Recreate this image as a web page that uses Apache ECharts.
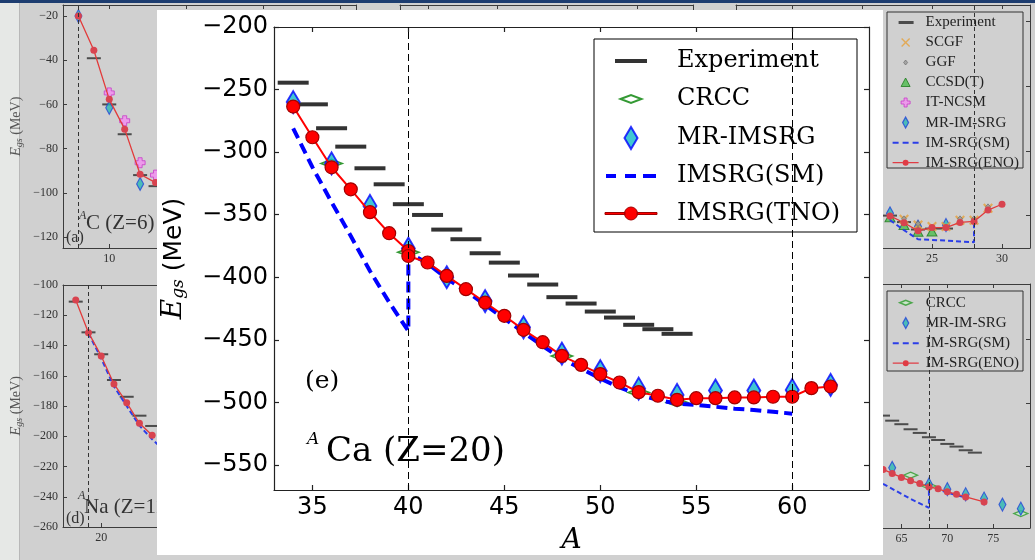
<!DOCTYPE html>
<html><head><meta charset="utf-8">
<script src="https://cdn.jsdelivr.net/npm/echarts@6/dist/echarts.min.js"></script>
<style>
html,body{margin:0;padding:0;width:1035px;height:560px;overflow:hidden;background:#d0d0d0;}
#bg{position:absolute;left:0;top:0;width:1035px;height:560px;
  background:linear-gradient(#1d3d70,#1d3d70) 0 0/1035px 3px no-repeat,
             linear-gradient(to right,#e6e8e6 0,#e6e8e6 19px,#b8b8b8 19px,#b8b8b8 20px,#d0d0d0 20px);}
#main{position:absolute;left:157px;top:10px;width:726px;height:545px;background:#fff;}
</style></head><body>
<div id="bg"></div><div id="main"></div>
<script>
// ===== Main panel (e): ACa (Z=20) =====
const caExpA  = [34,35,36,37,38,39,40,41,42,43,44,45,46,47,48,49,50,51,52,53,54];
const caExpE  = [-244.5,-261.8,-280.9,-295.6,-312.9,-325.7,-341.6,-350.2,-361.9,-369.6,-380.8,-388.3,-398.6,-405.8,-415.9,-421.0,-427.4,-432.2,-438.0,-441.5,-445.2];
const caCrccA = [36,40,48,52,54];
const caCrccE = [-309,-380,-463,-492,-500];
const caMrA   = [34,36,38,40,42,44,46,48,50,52,54,56,58,60,62];
const caMrE   = [-260,-309,-343,-377,-400,-419,-440,-461,-475,-489,-494,-490.5,-490.5,-490,-486];
const caSmA   = [34,35,36,37,38,39,40,40,41,42,43,44,45,46,47,48,49,50,51,52,53,54,55,56,57,58,59,60];
const caSmE   = [-281,-312,-340,-367,-395,-420,-443,-380,-389,-401,-411,-422,-433,-444,-455,-465,-473,-481,-488,-494,-498,-501,-502,-503.5,-505,-506,-507.5,-509];
const caTnoA  = [34,35,36,37,38,39,40,40,41,42,43,44,45,46,47,48,49,50,51,52,53,54,55,56,57,58,59,60,61,62];
const caTnoE  = [-263.6,-288.1,-312.1,-329.7,-348,-364.8,-379,-383,-388.2,-398.9,-409.5,-420.2,-430.8,-442,-451.9,-462.8,-470,-477.4,-484.1,-491.8,-494.7,-497.9,-496.6,-496.6,-496,-496,-495.5,-495.5,-488.6,-487.3];
const caMagic = [40,60];
const caTicksX = [35,40,45,50,55,60];
const caTicksY = [-550,-500,-450,-400,-350,-300,-250,-200];

// ===== Background panel (a): AC (Z=6) =====
const cExpA  = [9,10,11,12,13];
const cExpE  = [-39.1,-60,-73.5,-92,-97];
const cEnoA  = [8,9,10,11,12,13];
const cEnoE  = [-20,-35.5,-57.7,-71.2,-91.6,-95.4];
const cMrA   = [8,10,12];
const cMrE   = [-20,-61.5,-96];
const cNcsmA = [10,11,12,13];
const cNcsmE = [-54.8,-67.4,-86.4,-92];
const cMagic = [8];
const cTicksX = [10,15,20,25];
const cTicksY = [-120,-100,-80,-60,-40,-20];

// ===== Background panel (d): ANa (Z=11) =====
const naExpA = [18,19,20,21,22,23,24];
const naExpE = [-111,-131.3,-145.8,-162.8,-173.9,-186.4,-193.2];
const naEnoA = [18,19,20,21,22,23,24];
const naEnoE = [-109.9,-131.5,-146.9,-165.4,-177.8,-191.4,-199.4];
const naSmA  = [19,20,21,22,23,24,25];
const naSmE  = [-132,-148.5,-167,-180,-193,-202,-210];
const naMagic = [19];
const naTicksX = [20,25,30,35,40];
const naTicksY = [-260,-240,-220,-200,-180,-160,-140,-120,-100];

// ===== Background panel (c), top right =====
const oExpA  = [22,23,24,25,26];
const oExpE  = [-180,-182,-184.3,-184,-184];
const oScgfA = [23,24,25,26,27,28,29];
const oScgfE = [-181.1,-182.9,-183.4,-183.4,-181.4,-181.4,-177.7];
const oGgfA  = [23,24,27,28,29];
const oGgfE  = [-181,-182.5,-181,-181,-177.3];
const oCcA   = [22,23,24,25];
const oCcE   = [-180.5,-182.9,-185,-184.9];
const oMrA   = [22,24,26];
const oMrE   = [-179.3,-183.4,-182.9];
const oSmA   = [22,23,24,25,26,27,28,28];
const oSmE   = [-181.4,-184.5,-187.3,-187.5,-187.7,-188,-188.2,-182];
const oEnoA  = [22,23,24,25,26,27,28,29,30];
const oEnoE  = [-180.1,-182.2,-184.7,-183.7,-183.7,-182.1,-181.8,-178.3,-176.5];
const oMagic = [28];
const oTicksX = [15,20,25,30];
const oTicksY = [-180,-160,-140,-120];

// ===== Background panel (f), bottom right =====
const niExpA  = [63,64,65,66,67,68,69,70,71,72,73];
const niExpE  = [-610.1,-614.1,-616.9,-620.9,-623.8,-627.2,-629.4,-632.5,-634.6,-637.5,-639.4];
const niEnoA  = [63,64,65,66,67,68,69,70,71,72,74];
const niEnoE  = [-652.7,-655.8,-659,-661.7,-663.8,-666.5,-668,-670.4,-672.3,-674.4,-678.4];
const niMrA   = [64,68,70,72,74,76,78];
const niMrE   = [-651.4,-664.6,-668.3,-672.3,-675.7,-680.5,-683.7];
const niCrccA = [66,68,78];
const niCrccE = [-657.2,-665.8,-687.6];
const niSmA   = [63,64,66,68,68,70,72];
const niSmE   = [-664,-668,-676,-683,-666,-671,-675];
const niMagic = [68];
const niTicksX = [50,55,60,65,70,75];
const niTicksY = [-650,-600,-550];

// ---------- helpers ----------
const zip = (a, b) => a.map((x, i) => [x, b[i]]);
const fmt = v => String(v).replace('-', '\u2212');
const box = (w, h) => 'path://M0,0 M' + w + ',' + h + ' ';
const PLUS = 'path://M3,0 L7,0 L7,3 L10,3 L10,7 L7,7 L7,10 L3,10 L3,7 L0,7 L0,3 L3,3 Z';
const XMARK = 'path://M0,1.5 L1.5,0 L5,3.5 L8.5,0 L10,1.5 L6.5,5 L10,8.5 L8.5,10 L5,6.5 L1.5,10 L0,8.5 L3.5,5 Z';

// ================= BACKGROUND CHART =================
const bg = echarts.init(document.getElementById('bg'));
const BGF = 'Liberation Serif';
const AX = '#3c3c3c';
const grids = [], xAxes = [], yAxes = [], series = [];
function addPanel(rect, xr, xt, yr, yt, showX, showY) {
  const gi = grids.length;
  grids.push({left: rect[0], top: rect[1], width: rect[2], height: rect[3], show: false, containLabel: false, outerBoundsMode: 'none'});
  const line = {show: true, onZero: false, lineStyle: {color: AX, width: 1}};
  const tk = v => ({show: true, inside: true, length: 4, customValues: v, lineStyle: {color: AX, width: 1}});
  const lab = (v, s) => ({show: s, customValues: v, fontFamily: BGF, fontSize: 12, color: '#333', margin: 5, formatter: fmt});
  xAxes.push({gridIndex: gi, type: 'value', position: 'bottom', min: xr[0], max: xr[1], axisLine: line, axisTick: tk(xt), axisLabel: lab(xt, showX), splitLine: {show: false}});
  xAxes.push({gridIndex: gi, type: 'value', position: 'top', min: xr[0], max: xr[1], axisLine: line, axisTick: tk(xt), axisLabel: {show: false}, splitLine: {show: false}});
  yAxes.push({gridIndex: gi, type: 'value', position: 'left', min: yr[0], max: yr[1], axisLine: line, axisTick: tk(yt), axisLabel: lab(yt, showY), splitLine: {show: false}});
  yAxes.push({gridIndex: gi, type: 'value', position: 'right', min: yr[0], max: yr[1], axisLine: line, axisTick: tk(yt), axisLabel: {show: false}, splitLine: {show: false}});
  return gi;
}
const ax = gi => ({xAxisIndex: 2 * gi, yAxisIndex: 2 * gi});
const vline = vals => ({symbol: 'none', silent: true, animation: false, label: {show: false},
  lineStyle: {color: '#333', type: [4, 3], width: 1}, emphasis: {disabled: true}, data: vals.map(v => ({xAxis: v}))});
const yNameBg = {
  name: '{e|E}{s|gs}{n| (MeV)}', nameLocation: 'middle', nameGap: 39, nameRotate: 90, nameMoveOverlap: false,
  nameTextStyle: {rich: {
    e: {fontFamily: BGF, fontStyle: 'italic', fontSize: 15, color: '#555'},
    s: {fontFamily: BGF, fontStyle: 'italic', fontSize: 10, color: '#555', padding: [6, 0, 0, 0]},
    n: {fontFamily: BGF, fontSize: 14, color: '#555'}}}
};

const gA = addPanel([63, 5, 293, 243], [7, 26], cTicksX, [-125, -15], cTicksY, true, true);
const gB = addPanel([400, 5, 293, 243], [8, 29], [10, 15, 20, 25], [-125, -15], cTicksY, false, false);
const gC = addPanel([736, 5, 294, 243], [11, 32], oTicksX, [-190, -115], oTicksY, true, false);
const gD = addPanel([63, 285, 293, 242], [17, 40], naTicksX, [-260, -100], naTicksY, true, true);
const gF = addPanel([736, 284, 294, 244], [47, 79], niTicksX, [-699, -506], niTicksY, true, false);
Object.assign(yAxes[2 * gA], yNameBg);
Object.assign(yAxes[2 * gD], yNameBg);

const st = {
  exp:  {type: 'scatter', name: 'Experiment', symbol: 'rect', symbolSize: [14, 2], itemStyle: {color: '#2a2a2a'}},
  eno:  {type: 'line', name: 'IM-SRG(ENO)', symbol: 'circle', symbolSize: 7, itemStyle: {color: '#d8434f', borderWidth: 0}, lineStyle: {color: '#e23b3b', width: 1.3}},
  mr:   {type: 'scatter', name: 'MR-IM-SRG', symbol: 'diamond', symbolSize: [7, 13], itemStyle: {color: '#2bb6b0', borderColor: '#2243d8', borderWidth: 1.2}},
  ncsm: {type: 'scatter', name: 'IT-NCSM', symbol: PLUS, symbolSize: 10, itemStyle: {color: '#f28cf0', borderColor: '#c83cc8', borderWidth: 1}},
  scgf: {type: 'scatter', name: 'SCGF', symbol: XMARK, symbolSize: 10, itemStyle: {color: '#e6a03a'}},
  ggf:  {type: 'scatter', name: 'GGF', symbol: 'diamond', symbolSize: [5, 6], itemStyle: {color: '#999', borderColor: '#666', borderWidth: 0.8}},
  cc:   {type: 'scatter', name: 'CCSD(T)', symbol: 'triangle', symbolSize: [10, 9], itemStyle: {color: '#4cbb4c', borderColor: '#1f7a1f', borderWidth: 1}},
  crcc: {type: 'scatter', name: 'CRCC', symbol: 'diamond', symbolSize: [14, 6], itemStyle: {color: '#c8e8c8', borderColor: '#2a9a2a', borderWidth: 1.5}},
  sm:   {type: 'line', name: 'IM-SRG(SM)', symbol: 'none', lineStyle: {color: '#2b3ee8', width: 2, type: [5, 3]}, itemStyle: {color: '#2b3ee8'}}
};
function S(kind, gi, xs, ys, extra) {
  series.push(Object.assign({}, st[kind], ax(gi), {data: zip(xs, ys), silent: true, animation: false}, extra || {}));
}
// (a)
S('exp', gA, cExpA, cExpE, {markLine: vline(cMagic)});
S('ncsm', gA, cNcsmA, cNcsmE);
S('mr', gA, cMrA, cMrE);
S('eno', gA, cEnoA, cEnoE);
// (c)
S('exp', gC, oExpA, oExpE, {markLine: vline(oMagic)});
S('sm', gC, oSmA, oSmE);
S('cc', gC, oCcA, oCcE);
S('mr', gC, oMrA, oMrE);
S('scgf', gC, oScgfA, oScgfE);
S('ggf', gC, oGgfA, oGgfE);
S('eno', gC, oEnoA, oEnoE);
// (d)
S('exp', gD, naExpA, naExpE, {markLine: vline(naMagic)});
S('sm', gD, naSmA, naSmE);
S('eno', gD, naEnoA, naEnoE);
// (f)
S('exp', gF, niExpA, niExpE, {markLine: vline(niMagic)});
S('crcc', gF, niCrccA, niCrccE);
S('mr', gF, niMrA, niMrE);
S('sm', gF, niSmA, niSmE);
S('eno', gF, niEnoA, niEnoE);

const bgLegText = {fontFamily: BGF, fontSize: 15, color: '#222', lineHeight: 14, padding: [0, 0, 0, 2]};
const B = box(26, 14);
const bgIcons = {
  'Experiment': {icon: B + 'M6,5.5 L21,5.5 L21,8.5 L6,8.5 Z', itemStyle: {color: '#2a2a2a', borderWidth: 0}},
  'SCGF': {icon: B + 'M8.5,3.5 L9.5,2.5 L13,6 L16.5,2.5 L17.5,3.5 L14,7 L17.5,10.5 L16.5,11.5 L13,8 L9.5,11.5 L8.5,10.5 L12,7 Z', itemStyle: {color: '#e6a03a', borderWidth: 0}},
  'GGF': {icon: B + 'M13,4.5 L15,7 L13,9.5 L11,7 Z', itemStyle: {color: '#999', borderColor: '#666', borderWidth: 0.8}},
  'CCSD(T)': {icon: B + 'M13,2.5 L17.5,11 L8.5,11 Z', itemStyle: {color: '#4cbb4c', borderColor: '#1f7a1f', borderWidth: 1}},
  'IT-NCSM': {icon: B + 'M11.5,2.5 L14.5,2.5 L14.5,5.5 L17.5,5.5 L17.5,8.5 L14.5,8.5 L14.5,11.5 L11.5,11.5 L11.5,8.5 L8.5,8.5 L8.5,5.5 L11.5,5.5 Z', itemStyle: {color: '#f28cf0', borderColor: '#c83cc8', borderWidth: 1}},
  'MR-IM-SRG': {icon: B + 'M13,1.5 L16,7 L13,12.5 L10,7 Z', itemStyle: {color: '#2bb6b0', borderColor: '#2243d8', borderWidth: 1.2}},
  'IM-SRG(SM)': {icon: B + 'M0,6 L6,6 L6,8 L0,8 Z M10,6 L16,6 L16,8 L10,8 Z M20,6 L26,6 L26,8 L20,8 Z', itemStyle: {color: '#2b3ee8', borderWidth: 0}},
  'IM-SRG(ENO)': {icon: B + 'M0,6.4 L10,6.4 L10,7.6 L0,7.6 Z M16,6.4 L26,6.4 L26,7.6 L16,7.6 Z M16,7 A3,3 0 1 1 10,7 A3,3 0 1 1 16,7 Z', itemStyle: {color: '#e03c45', borderWidth: 0}},
  'CRCC': {icon: B + 'M7,7 L13,4.5 L19,7 L13,9.5 Z', itemStyle: {color: '#c8e8c8', borderColor: '#2a9a2a', borderWidth: 1.5}}
};
const legItems = names => names.map(n => Object.assign({name: n}, bgIcons[n]));

bg.setOption({
  animation: false,
  backgroundColor: 'transparent',
  grid: grids, xAxis: xAxes, yAxis: yAxes, series: series,
  legend: [
    {left: 892, top: 15, orient: 'vertical', itemWidth: 26, itemHeight: 14, itemGap: 5, padding: 0, selectedMode: false,
     textStyle: bgLegText, data: legItems(['Experiment', 'SCGF', 'GGF', 'CCSD(T)', 'IT-NCSM', 'MR-IM-SRG', 'IM-SRG(SM)', 'IM-SRG(ENO)'])},
    {left: 892, top: 295, orient: 'vertical', itemWidth: 26, itemHeight: 14, itemGap: 5, padding: 0, selectedMode: false,
     textStyle: bgLegText, data: legItems(['CRCC', 'MR-IM-SRG', 'IM-SRG(SM)', 'IM-SRG(ENO)'])}
  ],
  graphic: [
    {type: 'rect', z: 3, silent: true, shape: {x: 887, y: 12, width: 136, height: 156}, style: {fill: '#d0d0d0', stroke: '#333', lineWidth: 1}},
    {type: 'rect', z: 3, silent: true, shape: {x: 887, y: 291, width: 136, height: 80}, style: {fill: '#d0d0d0', stroke: '#333', lineWidth: 1}},
    {type: 'text', z: 5, silent: true, x: 66, y: 238, style: {text: '(a)', fontFamily: BGF, fontSize: 16, fill: '#333', verticalAlign: 'middle'}},
    {type: 'text', z: 5, silent: true, x: 79, y: 216, style: {text: 'A', fontFamily: BGF, fontStyle: 'italic', fontSize: 12, fill: '#333', verticalAlign: 'middle'}},
    {type: 'text', z: 5, silent: true, x: 86, y: 223, style: {text: 'C (Z=6)', fontFamily: BGF, fontSize: 21, fill: '#333', verticalAlign: 'middle'}},
    {type: 'text', z: 5, silent: true, x: 66, y: 519, style: {text: '(d)', fontFamily: BGF, fontSize: 16, fill: '#333', verticalAlign: 'middle'}},
    {type: 'text', z: 5, silent: true, x: 78, y: 496, style: {text: 'A', fontFamily: BGF, fontStyle: 'italic', fontSize: 12, fill: '#333', verticalAlign: 'middle'}},
    {type: 'text', z: 5, silent: true, x: 84, y: 507, style: {text: 'Na (Z=11)', fontFamily: BGF, fontSize: 21, fill: '#333', verticalAlign: 'middle'}}
  ]
});

// ================= MAIN CHART (e) =================
const main = echarts.init(document.getElementById('main'));
const MAX = '#222';
const mLine = {show: true, onZero: false, lineStyle: {color: MAX, width: 1.2}};
const mTick = v => ({show: true, inside: true, length: 5, customValues: v, lineStyle: {color: MAX, width: 1.2}});
const mLab = v => ({show: true, customValues: v, fontFamily: 'DejaVu Sans', fontSize: 24, color: '#000', margin: 6, formatter: fmt});
const M = box(52, 24);
main.setOption({
  animation: false,
  backgroundColor: '#fff',
  grid: {left: 117, top: 17, right: 14, bottom: 65, show: false, containLabel: false, outerBoundsMode: 'none'},
  xAxis: [
    {type: 'value', position: 'bottom', min: 33, max: 64, axisLine: mLine, axisTick: mTick(caTicksX), axisLabel: mLab(caTicksX), splitLine: {show: false},
     name: 'A', nameLocation: 'middle', nameGap: 37, nameMoveOverlap: false,
     nameTextStyle: {fontFamily: 'DejaVu Serif', fontStyle: 'italic', fontSize: 28, color: '#000'}},
    {type: 'value', position: 'top', min: 33, max: 64, axisLine: mLine, axisTick: mTick(caTicksX), axisLabel: {show: false}, splitLine: {show: false}}
  ],
  yAxis: [
    {type: 'value', position: 'left', min: -570, max: -200, axisLine: mLine, axisTick: mTick(caTicksY), axisLabel: mLab(caTicksY), splitLine: {show: false},
     name: '{e|E}{s|gs}{n| (MeV)}', nameLocation: 'middle', nameGap: 86, nameRotate: 90, nameMoveOverlap: false,
     nameTextStyle: {rich: {
       e: {fontFamily: 'DejaVu Serif', fontStyle: 'italic', fontSize: 28, color: '#000'},
       s: {fontFamily: 'DejaVu Serif', fontStyle: 'italic', fontSize: 17, color: '#000', padding: [10, 0, 0, 0]},
       n: {fontFamily: 'DejaVu Sans', fontSize: 25, color: '#000'}}}},
    {type: 'value', position: 'right', min: -570, max: -200, axisLine: mLine, axisTick: mTick(caTicksY), axisLabel: {show: false}, splitLine: {show: false}}
  ],
  legend: {
    left: 447, top: 39, orient: 'vertical', itemWidth: 52, itemHeight: 24, itemGap: 13, padding: 0, selectedMode: false,
    textStyle: {fontFamily: 'DejaVu Serif', fontSize: 24, color: '#000', lineHeight: 24, padding: [0, 0, 0, 15]},
    data: [
      {name: 'Experiment', icon: M + 'M10,10 L42,10 L42,14 L10,14 Z', itemStyle: {color: '#000', borderWidth: 0}},
      {name: 'CRCC', icon: M + 'M15.5,12 L26,8 L36.5,12 L26,16 Z', itemStyle: {color: '#fff', borderColor: '#008000', borderWidth: 2}},
      {name: 'MR-IMSRG', icon: M + 'M26,1 L32.5,12 L26,23 L19.5,12 Z', itemStyle: {color: '#10b8c8', borderColor: '#0000ff', borderWidth: 2}},
      {name: 'IMSRG(SM)', icon: M + 'M1,10 L11,10 L11,14 L1,14 Z M20,10 L31,10 L31,14 L20,14 Z M38,10 L51,10 L51,14 L38,14 Z', itemStyle: {color: '#0000ff', borderWidth: 0}},
      {name: 'IMSRG(TNO)', icon: M + 'M0,11 L20,11 L20,13 L0,13 Z M32,11 L52,11 L52,13 L32,13 Z M32.5,12 A6.5,6.5 0 1 1 19.5,12 A6.5,6.5 0 1 1 32.5,12 Z', itemStyle: {color: '#ff0000', borderColor: '#a00000', borderWidth: 1}}
    ]
  },
  series: [
    {type: 'scatter', name: 'Experiment', data: zip(caExpA, caExpE), symbol: 'rect', symbolSize: [31, 4], itemStyle: {color: '#000'},
     markLine: {symbol: 'none', silent: true, animation: false, label: {show: false}, emphasis: {disabled: true},
                lineStyle: {color: '#000', type: [7, 4], width: 1}, data: caMagic.map(v => ({xAxis: v}))}},
    {type: 'scatter', name: 'CRCC', data: zip(caCrccA, caCrccE), symbol: 'diamond', symbolSize: [21, 8],
     itemStyle: {color: '#fff', borderColor: '#008000', borderWidth: 2}},
    {type: 'scatter', name: 'MR-IMSRG', data: zip(caMrA, caMrE), symbol: 'diamond', symbolSize: [13, 22],
     itemStyle: {color: '#10b8c8', borderColor: '#0000ff', borderWidth: 2}},
    {type: 'line', name: 'IMSRG(SM)', data: zip(caSmA, caSmE), symbol: 'none',
     lineStyle: {color: '#0000ff', width: 4, type: [11, 6]}, itemStyle: {color: '#0000ff'}},
    {type: 'line', name: 'IMSRG(TNO)', data: zip(caTnoA, caTnoE), symbol: 'circle', symbolSize: 13,
     lineStyle: {color: '#ff0000', width: 2}, itemStyle: {color: '#ff0000', borderColor: '#a00000', borderWidth: 1.2}}
  ],
  graphic: [
    {type: 'rect', z: 3, silent: true, shape: {x: 437, y: 29, width: 263, height: 193}, style: {fill: '#fff', stroke: '#000', lineWidth: 1}},
    {type: 'text', z: 5, silent: true, x: 148, y: 371, style: {text: '(e)', fontFamily: 'DejaVu Serif', fontSize: 25, fill: '#000', verticalAlign: 'middle'}},
    {type: 'text', z: 5, silent: true, x: 150, y: 430, style: {text: 'A', fontFamily: 'DejaVu Serif', fontStyle: 'italic', fontSize: 17, fill: '#000', verticalAlign: 'middle'}},
    {type: 'text', z: 5, silent: true, x: 169, y: 442, style: {text: 'Ca (Z=20)', fontFamily: 'DejaVu Serif', fontSize: 34, fill: '#000', verticalAlign: 'middle'}}
  ]
});
</script>
</body></html>
